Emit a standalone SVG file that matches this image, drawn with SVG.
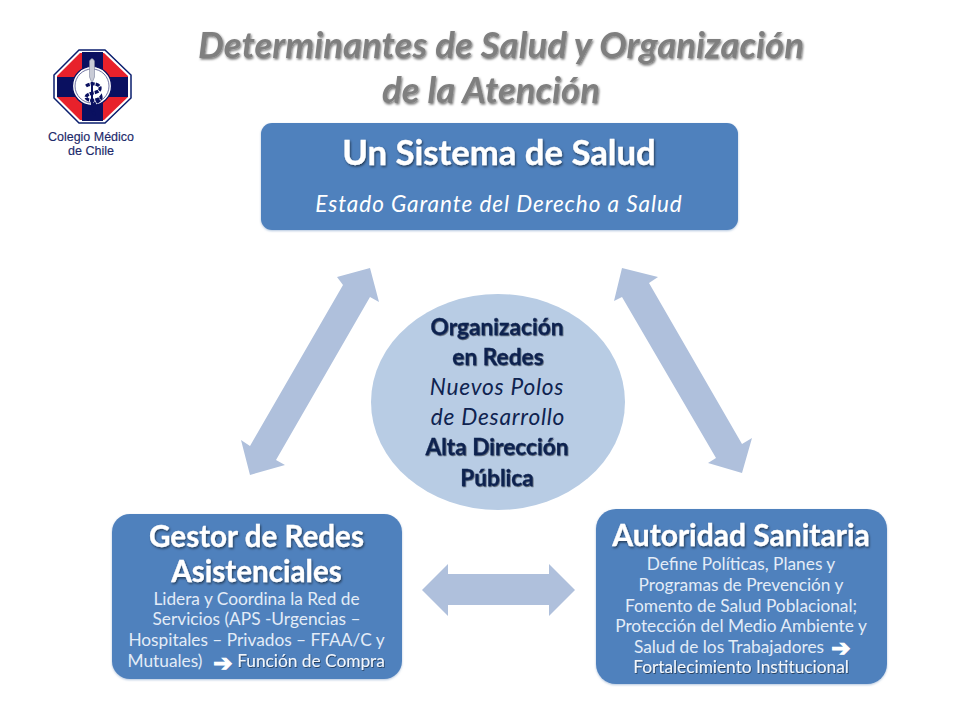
<svg xmlns="http://www.w3.org/2000/svg" width="960" height="720" viewBox="0 0 960 720">
<defs>
<filter id="ts" x="-10%" y="-30%" width="120%" height="170%"><feDropShadow dx="1" dy="1.5" stdDeviation="1" flood-color="#000" flood-opacity="0.55"/></filter>
<filter id="ts2" x="-10%" y="-30%" width="120%" height="170%"><feDropShadow dx="0.7" dy="0.9" stdDeviation="0.6" flood-color="#000" flood-opacity="0.55"/></filter>
<filter id="bs" x="-5%" y="-5%" width="110%" height="110%"><feDropShadow dx="0" dy="1" stdDeviation="1" flood-color="#7f9fc8" flood-opacity="0.6"/></filter>
</defs>
<style>
text{font-family:"Lato","Open Sans","Liberation Sans",sans-serif;text-anchor:middle}
.box{fill:#4f81bd;filter:url(#bs)}
.conn{fill:#afc0dc}
.h{fill:#fff;font-weight:700;filter:url(#ts);stroke:#fff;stroke-width:0.3}
.s{fill:#e3ecf7;font-size:17.3px}
.sh{filter:url(#ts2);fill:#f2f6fb;font-size:17.3px}
.e{fill:#0f2350;font-size:22.7px}
.eb{font-weight:700;filter:url(#ts2);stroke:#0f2350;stroke-width:0.3}
.title{fill:#7f7f7f;font-size:36.6px;font-weight:700;font-style:italic;filter:url(#ts)}
.arr{fill:#fff;stroke:#fff;stroke-width:1.1;font-family:"DejaVu Sans",sans-serif;font-size:23px;font-weight:700}
.lg{fill:#1d2a6b;stroke:#1d2a6b;stroke-width:0.15;font-size:12px;font-family:"Liberation Sans",sans-serif}
</style>
<rect width="960" height="720" fill="#fff"/>
<g id="logo">
<polygon points="79,50 105,50 131,75 131,98 105,123 79,123 54,98 54,75" fill="#fff" stroke="#0a1e6e" stroke-width="1.5"/>
<polygon points="80,53 104,53 128,76 128,97 104,120 80,120 57,97 57,76" fill="#e8212b"/>
<rect x="82" y="52" width="21" height="69" fill="#0a1060"/>
<rect x="57" y="77" width="71" height="20" fill="#0a1060"/>
<circle cx="92" cy="86" r="19.5" fill="#fff" stroke="#0a1060" stroke-width="1.2"/>
<circle cx="92" cy="86" r="17" fill="#fff" stroke="#0a1060" stroke-width="0.6"/>
<path d="M89.5,77V61q2.5,-5 5,0V77l-2.5,6z" fill="#c9cbd6" stroke="#7a7f9a" stroke-width="0.6"/>
<path d="M92,82v33" stroke="#0a1060" stroke-width="2"/>
<path d="M86,86c6,-4 15,-2 14,3c-1,5 -13,3 -14,8c0,5 12,4 15,0c1,4 -7,5 -9,11c0,3 3,5 2,7" fill="none" stroke="#0a1060" stroke-width="3.2" stroke-dasharray="4 1"/>
<text class="lg" x="91" y="141" textLength="86" lengthAdjust="spacingAndGlyphs">Colegio Médico</text>
<text class="lg" x="91" y="154.5" textLength="46" lengthAdjust="spacingAndGlyphs">de Chile</text>
</g>
<g id="title">
<text class="title" x="501" y="58">Determinantes de Salud y Organización</text>
<text class="title" x="491" y="103">de la Atención</text>
</g>
<g id="connectors">
<polygon class="conn" points="370,268 337,277 343,285 250,446 241,440 250,475 285,465 276,460 370,297 379,302"/>
<polygon class="conn" points="622,268 658,277 649,283 742,444 752,438 742,473 708,463 716,458 622,297 614,301"/>
<polygon class="conn" points="422,590 448,564 448,574 549,574 549,564 575,590 549,616 549,605 448,605 448,616"/>
</g>
<g id="sistema">
<rect class="box" x="261" y="123" width="477" height="107" rx="11"/>
<text class="h" x="499" y="165" font-size="34.7">Un Sistema de Salud</text>
<text x="499" y="212" font-size="22.5" font-style="italic" fill="#fff" letter-spacing="0.95">Estado Garante del Derecho a Salud</text>
</g>
<g id="redes">
<ellipse cx="498" cy="402" rx="127" ry="108" fill="#b8cce4"/>
<text class="e eb" x="497" y="335">Organización</text>
<text class="e eb" x="498" y="365">en Redes</text>
<text class="e" x="497" y="395" font-style="italic" letter-spacing="0.75">Nuevos Polos</text>
<text class="e" x="498" y="425" font-style="italic" letter-spacing="0.75">de Desarrollo</text>
<text class="e eb" x="497" y="455">Alta Dirección</text>
<text class="e eb" x="497" y="486">Pública</text>
</g>
<g id="gestor">
<rect class="box" x="112" y="514" width="290" height="165" rx="18"/>
<text class="h" x="256.5" y="547" font-size="29.6">Gestor de Redes</text>
<text class="h" x="256.5" y="582" font-size="29.6">Asistenciales</text>
<text class="s" x="256.5" y="605">Lidera y Coordina la Red de</text>
<text class="s" x="256.5" y="625">Servicios (APS -Urgencias –</text>
<text class="s" x="256.5" y="646">Hospitales – Privados – FFAA/C y</text>
<text class="s" x="165" y="667">Mutuales)</text>
<text class="arr" x="223" y="671">➔</text>
<text class="sh" x="311" y="667">Función de Compra</text>
</g>
<g id="autoridad">
<rect class="box" x="596" y="509" width="291" height="175" rx="20"/>
<text class="h" x="741" y="546" font-size="30">Autoridad Sanitaria</text>
<text class="s" x="741" y="570">Define Políticas, Planes y</text>
<text class="s" x="741" y="591">Programas de Prevención y</text>
<text class="s" x="741" y="612">Fomento de Salud Poblacional;</text>
<text class="s" x="741" y="632">Protección del Medio Ambiente y</text>
<text class="s" x="729" y="653">Salud de los Trabajadores</text>
<text class="arr" x="841" y="656">➔</text>
<text class="sh" x="741" y="673">Fortalecimiento Institucional</text>
</g>
</svg>
